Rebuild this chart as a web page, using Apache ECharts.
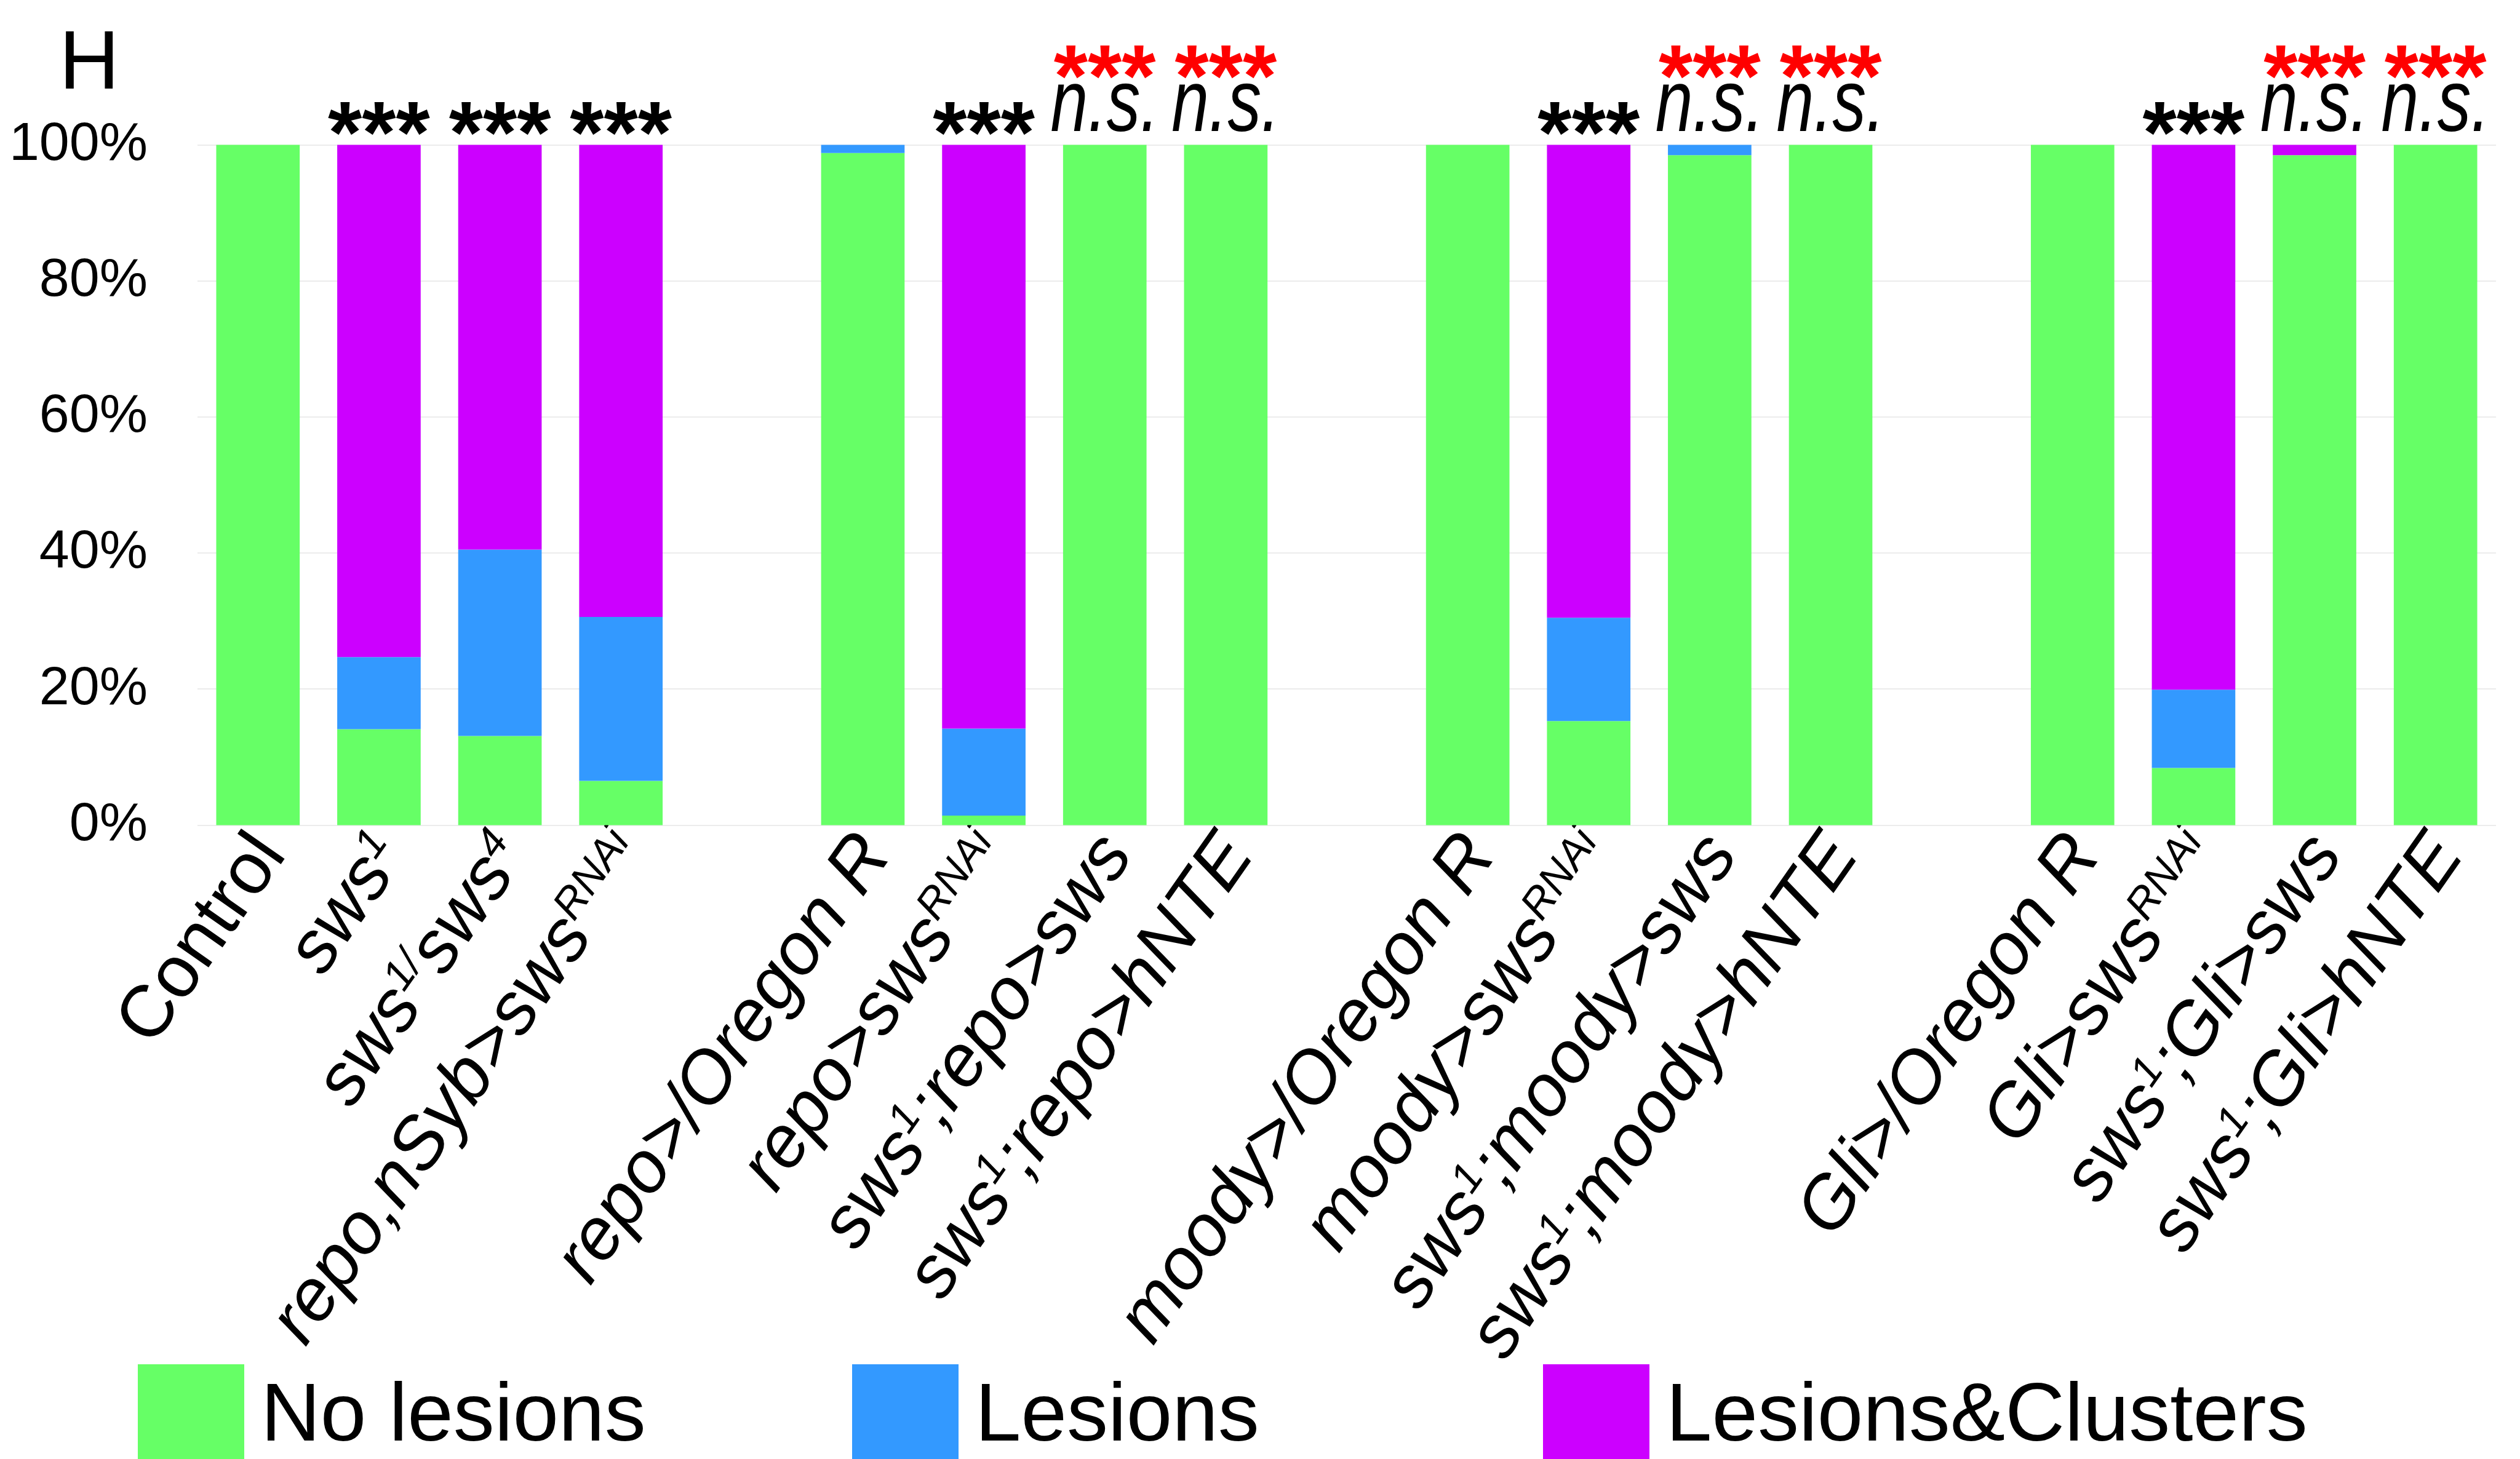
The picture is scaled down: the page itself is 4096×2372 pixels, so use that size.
<!DOCTYPE html>
<html>
<head>
<meta charset="utf-8">
<style>
  html, body { margin: 0; padding: 0; background: #fff; }
  #chart { width: 4096px; height: 2372px; }
</style>
<script src="https://cdn.jsdelivr.net/npm/echarts@6/dist/echarts.min.js"></script>
</head>
<body>
<div id="chart"></div>
<script>
// Genotypes (empty strings are spacer slots between the four groups).
// {s|...} marks superscript allele / RNAi tags.
const categories = [
  'Control', 'sws{s|1}', 'sws{s|1/}sws{s|4}', 'repo,nSyb>sws{s|RNAi}', '',
  'repo>/Oregon R', 'repo>sws{s|RNAi}', 'sws{s|1};repo>sws', 'sws{s|1};repo>hNTE', '',
  'moody>/Oregon R', 'moody>sws{s|RNAi}', 'sws{s|1};moody>sws', 'sws{s|1};moody>hNTE', '',
  'Gli>/Oregon R', 'Gli>sws{s|RNAi}', 'sws{s|1};Gli>sws', 'sws{s|1};Gli>hNTE'
];

// Percentage of brains per phenotype class
const noLesions = [100, 14.1, 13.1, 6.5, null, 98.8, 1.4, 100, 100, null, 100, 15.3, 98.5, 100, null, 100, 8.4, 98.5, 100];
const lesions   = [0, 10.6, 27.4, 24.1, null, 1.2, 12.8, 0, 0, null, 0, 15.2, 1.5, 0, null, 0, 11.5, 0, 0];
const clusters  = [0, 75.3, 59.5, 69.4, null, 0, 85.8, 0, 0, null, 0, 69.5, 0, 0, null, 0, 80.1, 1.5, 0];

// Significance marks: lower row (vs. control) and upper row (vs. knock-down)
const sigLower = ['', '***', '***', '***', '', '', '***', 'n.s.', 'n.s.', '', '', '***', 'n.s.', 'n.s.', '', '', '***', 'n.s.', 'n.s.'];
const sigUpper = ['', '', '', '', '', '', '', '***', '***', '', '', '', '***', '***', '', '', '', '***', '***'];

const yTicks = [0, 20, 40, 60, 80, 100];
const seriesNames = ['No lesions', 'Lesions', 'Lesions&Clusters'];
const colors = ['#66ff66', '#3399ff', '#cc00ff'];

const FONT = "'Liberation Sans', Arial, sans-serif";

const totals = categories.map((c, i) =>
  noLesions[i] == null ? null : noLesions[i] + lesions[i] + clusters[i]);

// [categoryIndex, stackTop] for every bar carrying the given mark
function markData(arr, key) {
  const out = [];
  arr.forEach((s, i) => { if (s === key && totals[i] != null) out.push([i, totals[i]]); });
  return out;
}

const chart = echarts.init(document.getElementById('chart'), null, { renderer: 'canvas' });

const barSeries = [noLesions, lesions, clusters].map((vals, k) => ({
  name: seriesNames[k],
  type: 'bar',
  stack: 'total',
  barWidth: '69%',
  data: vals,
  itemStyle: { color: colors[k] },
  emphasis: { disabled: true },
  animation: false
}));

// Text mark placed above the stack top; sx squeezes the glyphs horizontally
function annotation(name, data, text, color, opts) {
  return {
    name: name,
    type: 'custom',
    data: data,
    silent: true,
    animation: false,
    z: 5,
    encode: { x: 0, y: 1 },
    renderItem: function (params, api) {
      const pt = api.coord([api.value(0), api.value(1)]);
      return {
        type: 'text',
        x: pt[0],
        y: pt[1] + opts.dy,
        scaleX: opts.sx || 1,
        style: {
          text: text,
          fill: color,
          fontSize: 142,
          lineHeight: 142,
          fontFamily: FONT,
          fontStyle: opts.italic ? 'italic' : 'normal',
          fontWeight: opts.bold ? 'bold' : 'normal',
          align: 'center',
          verticalAlign: 'bottom'
        }
      };
    }
  };
}

function legendAt(name, left) {
  return {
    data: [name],
    left: left,
    top: 2213,
    orient: 'horizontal',
    icon: 'rect',
    itemWidth: 173,
    itemHeight: 154,
    selectedMode: false,
    formatter: '{t|{name}}',
    textStyle: {
      color: '#000',
      fontSize: 134,
      fontFamily: FONT,
      rich: { t: { fontSize: 134, fontFamily: FONT, color: '#000', padding: [20, 0, 0, 22] } }
    }
  };
}

const option = {
  backgroundColor: '#ffffff',
  animation: false,
  textStyle: { fontFamily: FONT },
  graphic: [{
    type: 'text',
    left: 96,
    top: 38,
    style: { text: 'H', fontSize: 136, fontFamily: FONT, fill: '#000' }
  }],
  grid: { left: 321, right: 39, top: 235.6, bottom: 1030.6, containLabel: false },
  legend: [
    legendAt('No lesions', 219),
    legendAt('Lesions', 1380),
    legendAt('Lesions&Clusters', 2503)
  ],
  xAxis: {
    type: 'category',
    data: categories,
    axisLine: { show: false },
    axisTick: { show: false },
    splitLine: { show: false },
    axisLabel: {
      interval: 0,
      rotate: 55,
      margin: 15,
      padding: [51, 0, 0, 0],
      color: '#000',
      fontSize: 119,
      fontStyle: 'italic',
      fontFamily: FONT,
      formatter: (v) => v === 'Control' ? '{u|Control}' : v,
      rich: {
        s: { fontSize: 69, fontStyle: 'italic', fontFamily: FONT, color: '#000', verticalAlign: 'top', lineHeight: 69 },
        u: { fontSize: 119, fontStyle: 'normal', fontFamily: FONT, color: '#000' }
      }
    }
  },
  yAxis: {
    type: 'value',
    min: yTicks[0],
    max: yTicks[yTicks.length - 1],
    interval: yTicks[1] - yTicks[0],
    axisLine: { show: false },
    axisTick: { show: false },
    splitLine: { show: true, lineStyle: { color: '#ececec', width: 2 } },
    axisLabel: {
      color: '#000',
      fontSize: 88,
      fontFamily: FONT,
      margin: 81,
      formatter: '{value}%'
    }
  },
  series: barSeries.concat([
    annotation('stars', markData(sigLower, '***'), '***', '#000', { dy: 60, bold: true }),
    annotation('ns', markData(sigLower, 'n.s.'), 'n.s.', '#000', { dy: 9, italic: true, sx: 0.77 }),
    annotation('starsUpper', markData(sigUpper, '***'), '***', '#ff0000', { dy: -32, bold: true })
  ])
};

chart.setOption(option);
</script>
</body>
</html>
